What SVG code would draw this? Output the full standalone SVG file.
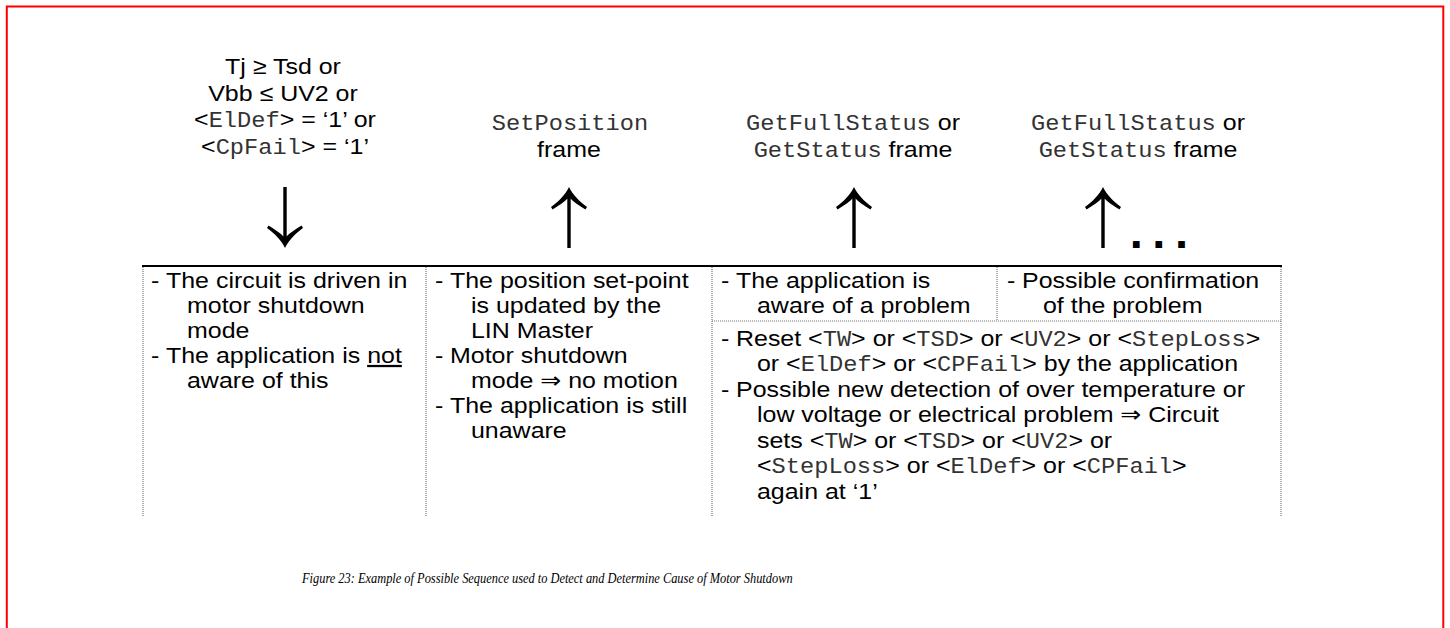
<svg xmlns="http://www.w3.org/2000/svg" width="1450" height="628" viewBox="0 0 1450 628">
<style>
.t{font-family:"Liberation Sans",Arial,"DejaVu Sans",sans-serif;font-size:22.5px;fill:#000}
.m{font-family:"Liberation Mono","Courier New",monospace;font-size:21.35px;fill:#333}
.c{text-anchor:middle}
.dot{stroke:#777;stroke-width:1.2;stroke-dasharray:1 1;fill:none}
.cap{font-family:"Liberation Serif","Times New Roman",serif;font-style:italic;font-size:15.5px;fill:#000}
</style>
<defs>
<path id="arr" d="M0 0 C-4 8 -10 14 -18 20 L-16.5 22.5 C-10 18.5 -4 14.5 -1.7 11.5 L-1.7 61 L1.7 61 L1.7 11.5 C4 14.5 10 18.5 16.5 22.5 L18 20 C10 14 4 8 0 0 Z" fill="#000"/>
</defs>
<rect x="6.8" y="6.5" width="1436.5" height="660" fill="none" stroke="#ff0000" stroke-width="2"/>

<g id="connectors">
<use href="#arr" transform="translate(285,248) scale(1,-1)"/>
<use href="#arr" transform="translate(569,187)"/>
<use href="#arr" transform="translate(854,187)"/>
<use href="#arr" transform="translate(1103,187)"/>
<text class="t" x="1129.7" y="248" style="font-size:47px;font-weight:bold;letter-spacing:9.6px">...</text>
</g>

<g id="label1">
<text class="t c" transform="scale(1.11 1)"><tspan x="254.95" y="74">Tj ≥ Tsd or</tspan><tspan x="254.95" y="101">Vbb ≤ UV2 or</tspan><tspan x="256.76" y="127">&lt;<tspan class="m">ElDef</tspan>&gt; = ‘1’ or</tspan><tspan x="256.76" y="154">&lt;<tspan class="m">CpFail</tspan>&gt; = ‘1’</tspan></text>
</g>
<g id="label2">
<text class="t c" transform="scale(1.11 1)"><tspan class="m" x="513.51" y="130">SetPosition</tspan><tspan x="512.61" y="157">frame</tspan></text>
</g>
<g id="label3">
<text class="t c" transform="scale(1.11 1)"><tspan x="768.47" y="130"><tspan class="m">GetFullStatus</tspan> or</tspan><tspan x="768.47" y="157"><tspan class="m">GetStatus</tspan> frame</tspan></text>
</g>
<g id="label4">
<text class="t c" transform="scale(1.11 1)"><tspan x="1025.23" y="130"><tspan class="m">GetFullStatus</tspan> or</tspan><tspan x="1025.23" y="157"><tspan class="m">GetStatus</tspan> frame</tspan></text>
</g>

<g id="table">
<line x1="142" y1="266" x2="1282" y2="266" stroke="#000" stroke-width="2"/>
<line class="dot" x1="143" y1="267" x2="143" y2="517"/>
<line class="dot" x1="426" y1="267" x2="426" y2="517"/>
<line class="dot" x1="712" y1="267" x2="712" y2="517"/>
<line class="dot" x1="997" y1="267" x2="997" y2="321"/>
<line class="dot" x1="1281" y1="267" x2="1281" y2="517"/>
<line class="dot" x1="712" y1="321" x2="1281" y2="321"/>
</g>

<g id="cell1">
<text class="t" transform="scale(1.11 1)"><tspan x="136.04" y="288">-</tspan><tspan x="149.55" y="288">The circuit is driven in</tspan><tspan x="168.47" y="313">motor shutdown</tspan><tspan x="168.47" y="338">mode</tspan><tspan x="136.04" y="363">-</tspan><tspan x="149.55" y="363">The application is <tspan text-decoration="underline">not</tspan></tspan><tspan x="168.47" y="388">aware of this</tspan></text>
</g>

<g id="cell2">
<text class="t" transform="scale(1.11 1)"><tspan x="391.89" y="288">-</tspan><tspan x="405.41" y="288">The position set-point</tspan><tspan x="424.32" y="313">is updated by the</tspan><tspan x="424.32" y="338">LIN Master</tspan><tspan x="391.89" y="363">-</tspan><tspan x="405.41" y="363">Motor shutdown</tspan><tspan x="424.32" y="388">mode ⇒ no motion</tspan><tspan x="391.89" y="413">-</tspan><tspan x="405.41" y="413">The application is still</tspan><tspan x="424.32" y="438">unaware</tspan></text>
</g>

<g id="cell3">
<text class="t" transform="scale(1.11 1)"><tspan x="649.55" y="288">-</tspan><tspan x="663.06" y="288">The application is</tspan><tspan x="681.98" y="313">aware of a problem</tspan></text>
</g>

<g id="cell4">
<text class="t" transform="scale(1.11 1)"><tspan x="907.21" y="288">-</tspan><tspan x="920.72" y="288">Possible confirmation</tspan><tspan x="939.64" y="313">of the problem</tspan></text>
</g>

<g id="cell5">
<text class="t" transform="scale(1.11 1)"><tspan x="649.55" y="346">-</tspan><tspan x="663.06" y="346">Reset &lt;<tspan class="m">TW</tspan>&gt; or &lt;<tspan class="m">TSD</tspan>&gt; or &lt;<tspan class="m">UV2</tspan>&gt; or &lt;<tspan class="m">StepLoss</tspan>&gt;</tspan><tspan x="681.98" y="371.5">or &lt;<tspan class="m">ElDef</tspan>&gt; or &lt;<tspan class="m">CPFail</tspan>&gt; by the application</tspan><tspan x="649.55" y="397">-</tspan><tspan x="663.06" y="397">Possible new detection of over temperature or</tspan><tspan x="681.98" y="422.5">low voltage or electrical problem ⇒ Circuit</tspan><tspan x="681.98" y="448">sets &lt;<tspan class="m">TW</tspan>&gt; or &lt;<tspan class="m">TSD</tspan>&gt; or &lt;<tspan class="m">UV2</tspan>&gt; or</tspan><tspan x="681.98" y="473.5">&lt;<tspan class="m">StepLoss</tspan>&gt; or &lt;<tspan class="m">ElDef</tspan>&gt; or &lt;<tspan class="m">CPFail</tspan>&gt;</tspan><tspan x="681.98" y="499">again at ‘1’</tspan></text>
</g>

<text id="caption" class="cap" x="302" y="583" transform="translate(302 0) scale(0.8 1) translate(-302 0)">Figure 23: Example of Possible Sequence used to Detect and Determine Cause of Motor Shutdown</text>
</svg>
